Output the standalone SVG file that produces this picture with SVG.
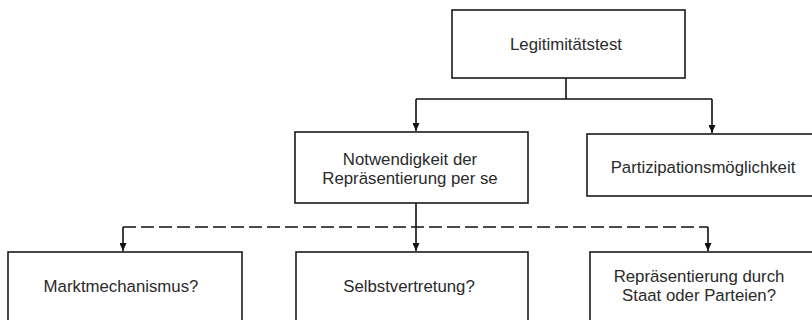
<svg xmlns="http://www.w3.org/2000/svg" width="812" height="320" viewBox="0 0 812 320">
<defs>
<style>
.box{fill:#fff;stroke:#1a1a1a;stroke-width:1.6}
.t{font-family:"Liberation Sans",Arial,sans-serif;font-size:16.8px;fill:#2a2a2a;text-anchor:middle}
.c{fill:none;stroke:#111;stroke-width:1.6}
.d{stroke-dasharray:13,5}
</style>
<marker id="ah" viewBox="0 0 10 10" refX="10" refY="5" markerWidth="8" markerHeight="7" markerUnits="userSpaceOnUse" orient="auto" preserveAspectRatio="none"><path d="M0,0 L10,5 L0,10 Z" fill="#111"/></marker>
</defs>
<rect width="812" height="320" fill="#fff"/>
<g id="connectors">
<path class="c" d="M566,78 V99"/>
<path class="c" d="M416,99 H712"/>
<path class="c" d="M416,99 V131" marker-end="url(#ah)"/>
<path class="c" d="M712,99 V133" marker-end="url(#ah)"/>
<path class="c" d="M416,203 V251" marker-end="url(#ah)"/>
<path class="c d" d="M123,227 H708"/>
<path class="c" d="M123,227 V251" marker-end="url(#ah)"/>
<path class="c" d="M708,227 V251" marker-end="url(#ah)"/>
</g>
<g id="legitimitaetstest">
<rect class="box" x="452" y="10" width="233" height="68"/>
<text class="t" x="566" y="50">Legitimitätstest</text>
</g>
<g id="notwendigkeit">
<rect class="box" x="295" y="132" width="233" height="71"/>
<text class="t" x="410" y="165">Notwendigkeit der</text>
<text class="t" x="410" y="184">Repräsentierung per se</text>
</g>
<g id="partizipation">
<rect class="box" x="587" y="134" width="240" height="62"/>
<text class="t" x="703" y="173">Partizipationsmöglichkeit</text>
</g>
<g id="markt">
<rect class="box" x="8" y="252" width="234" height="80"/>
<text class="t" x="121" y="292">Marktmechanismus?</text>
</g>
<g id="selbst">
<rect class="box" x="296" y="252" width="232" height="80"/>
<text class="t" x="409" y="292">Selbstvertretung?</text>
</g>
<g id="staat">
<rect class="box" x="590" y="252" width="230" height="80"/>
<text class="t" x="699" y="282">Repräsentierung durch</text>
<text class="t" x="699" y="301">Staat oder Parteien?</text>
</g>
</svg>
